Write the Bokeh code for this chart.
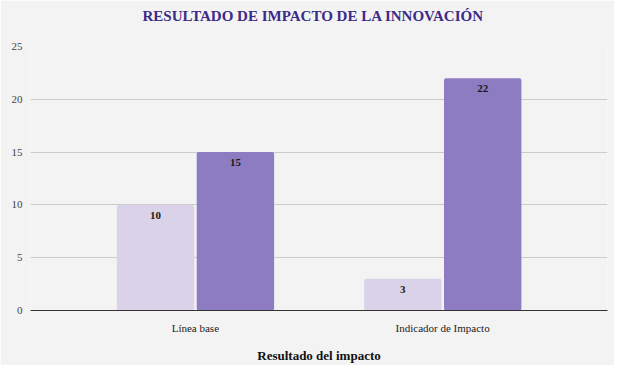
from bokeh.plotting import figure
from bokeh.models import ColumnDataSource, FactorRange, Range1d, LabelSet, SingleIntervalTicker, Title
from bokeh.transform import dodge
from bokeh.embed import file_html
from bokeh.resources import INLINE

categories = ["Línea base", "Indicador de Impacto"]
serie_1 = [10, 3]
serie_2 = [15, 22]

src = ColumnDataSource(dict(
    cat=categories,
    s1=serie_1,
    s2=serie_2,
    s1_lbl=[str(v) for v in serie_1],
    s2_lbl=[str(v) for v in serie_2],
))

BG = "#f3f3f3"
p = figure(
    x_range=FactorRange(factors=categories, range_padding=1/6),
    y_range=Range1d(0, 25),
    frame_width=577, frame_height=264,
    output_backend="svg", toolbar_location=None,
    min_border_left=30, min_border_right=7, min_border_top=40, min_border_bottom=48,
    background_fill_color=BG, border_fill_color=BG,
)
p.outline_line_color = None

p.title.text = "RESULTADO DE IMPACTO DE LA INNOVACIÓN"
p.title.align = "left"
p.title.offset = 112
p.title.text_font = "Liberation Serif"
p.title.text_font_size = "15px"
p.title.text_font_style = "bold"
p.title.text_color = "#3c2a87"

# spacer between title and frame
p.add_layout(Title(text=" ", text_font_size="5px"), "above")

p.vbar(x=dodge("cat", -0.161, range=p.x_range), top="s1", width=0.313, source=src,
       fill_color="#d9d2e9", line_color=None, border_radius=2)
p.vbar(x=dodge("cat", 0.162, range=p.x_range), top="s2", width=0.313, source=src,
       fill_color="#8e7cc3", line_color=None, border_radius=2)

for off, ycol, lbl in [(-0.161, "s1", "s1_lbl"), (0.162, "s2", "s2_lbl")]:
    ls = LabelSet(x=dodge("cat", off, range=p.x_range), y=ycol, text=lbl, source=src,
                  y_offset=-7, text_align="center", text_baseline="top",
                  text_font="Liberation Sans", text_font_style="bold", text_font_size="11px",
                  text_color="#1a1a1a")
    p.add_layout(ls)

p.yaxis.ticker = SingleIntervalTicker(interval=5)
p.yaxis.axis_line_color = None
p.yaxis.major_tick_line_color = None
p.yaxis.minor_tick_line_color = None
p.yaxis.major_label_standoff = 2
p.yaxis.major_label_text_font = "Liberation Serif"
p.yaxis.major_label_text_font_size = "11px"
p.yaxis.major_label_text_color = "#444444"

p.xaxis.axis_line_color = "#333333"
p.xaxis.major_tick_line_color = None
p.xaxis.minor_tick_line_color = None
p.xaxis.major_label_standoff = 5
p.xaxis.major_label_text_font = "Liberation Serif"
p.xaxis.major_label_text_font_size = "11px"
p.xaxis.major_label_text_color = "#222222"
p.xaxis.axis_label = "Resultado del impacto"
p.xaxis.axis_label_text_font = "Liberation Serif"
p.xaxis.axis_label_text_font_style = "bold"
p.xaxis.axis_label_text_font_size = "13px"
p.xaxis.axis_label_text_color = "#111111"
p.xaxis.axis_label_standoff = 11

p.xgrid.grid_line_color = None
p.ygrid.grid_line_color = "#cccccc"

open("out.html", "w").write(file_html(p, INLINE))
